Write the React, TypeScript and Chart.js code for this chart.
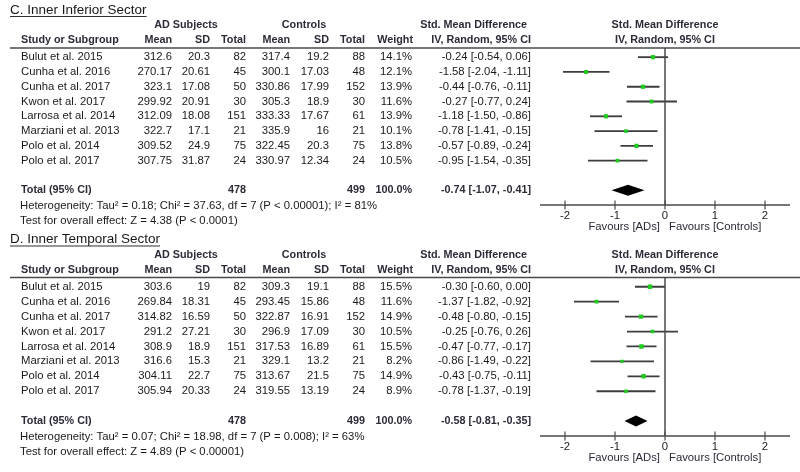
import React, { useEffect, useRef } from "react";
import { Chart, registerables } from "chart.js";
Chart.register(...registerables);

// ---------- shared ----------
const studies = [
  "Bulut et al. 2015",
  "Cunha et al. 2016",
  "Cunha et al. 2017",
  "Kwon et al. 2017",
  "Larrosa et al. 2014",
  "Marziani et al. 2013",
  "Polo et al. 2014",
  "Polo et al. 2017",
];
const axisTicks = [-2, -1, 0, 1, 2];
const favoursLeft = "Favours [ADs]";
const favoursRight = "Favours [Controls]";

// ---------- Panel C ----------
const cTitle = "C. Inner Inferior Sector";
const cAdMean = [312.6, 270.17, 323.1, 299.92, 312.09, 322.7, 309.52, 307.75];
const cAdSd = [20.3, 20.61, 17.08, 20.91, 18.08, 17.1, 24.9, 31.87];
const cAdN = [82, 45, 50, 30, 151, 21, 75, 24];
const cCtMean = [317.4, 300.1, 330.86, 305.3, 333.33, 335.9, 322.45, 330.97];
const cCtSd = [19.2, 17.03, 17.99, 18.9, 17.67, 16, 20.3, 12.34];
const cCtN = [88, 48, 152, 30, 61, 21, 75, 24];
const cWeight = [14.1, 12.1, 13.9, 11.6, 13.9, 10.1, 13.8, 10.5];
const cSmd = [-0.24, -1.58, -0.44, -0.27, -1.18, -0.78, -0.57, -0.95];
const cLo = [-0.54, -2.04, -0.76, -0.77, -1.5, -1.41, -0.89, -1.54];
const cHi = [0.06, -1.11, -0.11, 0.24, -0.86, -0.15, -0.24, -0.35];
const cTotalN = [478, 499];
const cTotalEst = [-0.74, -1.07, -0.41];
const cHetero = "Heterogeneity: Tau\u00B2 = 0.18; Chi\u00B2 = 37.63, df = 7 (P < 0.00001); I\u00B2 = 81%";
const cOverall = "Test for overall effect: Z = 4.38 (P < 0.0001)";

// ---------- Panel D ----------
const dTitle = "D. Inner Temporal Sector";
const dAdMean = [303.6, 269.84, 314.82, 291.2, 308.9, 316.6, 304.11, 305.94];
const dAdSd = [19, 18.31, 16.59, 27.21, 18.9, 15.3, 22.7, 20.33];
const dAdN = [82, 45, 50, 30, 151, 21, 75, 24];
const dCtMean = [309.3, 293.45, 322.87, 296.9, 317.53, 329.1, 313.67, 319.55];
const dCtSd = [19.1, 15.86, 16.91, 17.09, 16.89, 13.2, 21.5, 13.19];
const dCtN = [88, 48, 152, 30, 61, 21, 75, 24];
const dWeight = [15.5, 11.6, 14.9, 10.5, 15.5, 8.2, 14.9, 8.9];
const dSmd = [-0.3, -1.37, -0.48, -0.25, -0.47, -0.86, -0.43, -0.78];
const dLo = [-0.6, -1.82, -0.8, -0.76, -0.77, -1.49, -0.75, -1.37];
const dHi = [0.0, -0.92, -0.15, 0.26, -0.17, -0.22, -0.11, -0.19];
const dTotalN = [478, 499];
const dTotalEst = [-0.58, -0.81, -0.35];
const dHetero = "Heterogeneity: Tau\u00B2 = 0.07; Chi\u00B2 = 18.98, df = 7 (P = 0.008); I\u00B2 = 63%";
const dOverall = "Test for overall effect: Z = 4.89 (P < 0.00001)";

const panels = [
  {
    title: cTitle, adMean: cAdMean, adSd: cAdSd, adN: cAdN, ctMean: cCtMean, ctSd: cCtSd, ctN: cCtN,
    weight: cWeight, smd: cSmd, lo: cLo, hi: cHi, totalN: cTotalN, totalEst: cTotalEst,
    hetero: cHetero, overall: cOverall, height: 232, padTop: 48, padBottom: 27,
  },
  {
    title: dTitle, adMean: dAdMean, adSd: dAdSd, adN: dAdN, ctMean: dCtMean, ctSd: dCtSd, ctN: dCtN,
    weight: dWeight, smd: dSmd, lo: dLo, hi: dHi, totalN: dTotalN, totalEst: dTotalEst,
    hetero: dHetero, overall: dOverall, height: 240, padTop: 45.5, padBottom: 36,
  },
];

const FONT = '"Liberation Sans", Arial, sans-serif';
const REG = `11.3px ${FONT}`;
const BOLD = `bold 10.8px ${FONT}`;
const TXT = "#1a1a1a";
const HDR = "#2c2c38";
const LINE = "#4a4a4a";
const TOTAL_ROW = 9;
const DIAMOND_HALF = 0.37;

const f2 = (v: number) => v.toFixed(2);
const ciText = (e: number, l: number, h: number) => `${f2(e)} [${f2(l)}, ${f2(h)}]`;

const forestPlugin = {
  id: "forestDecor",
  afterDatasetsDraw(chart: any, _args: any, opts: any) {
    const p = opts.panel;
    if (!p) return;
    const ctx = chart.ctx as CanvasRenderingContext2D;
    const xs = chart.scales.x;
    const ys = chart.scales.y;
    const ca = chart.chartArea;
    const x0 = xs.getPixelForValue(0);

    ctx.save();
    // zero line
    ctx.strokeStyle = LINE;
    ctx.lineWidth = 1.5;
    ctx.beginPath();
    ctx.moveTo(x0, ca.top);
    ctx.lineTo(x0, ca.bottom);
    ctx.stroke();

    // header rule
    ctx.beginPath();
    ctx.moveTo(10, ca.top);
    ctx.lineTo(800, ca.top);
    ctx.stroke();

    // axis
    ctx.beginPath();
    ctx.moveTo(ca.left, ca.bottom);
    ctx.lineTo(ca.right, ca.bottom);
    ctx.stroke();
    ctx.lineWidth = 1.2;
    axisTicks.forEach((t) => {
      const x = xs.getPixelForValue(t);
      ctx.beginPath();
      ctx.moveTo(x, ca.bottom - 4.5);
      ctx.lineTo(x, ca.bottom + 4.5);
      ctx.stroke();
    });

    // diamond
    const [est, lo, hi] = p.totalEst;
    const yc = ys.getPixelForValue(TOTAL_ROW);
    const yt = ys.getPixelForValue(TOTAL_ROW - DIAMOND_HALF);
    const yb = ys.getPixelForValue(TOTAL_ROW + DIAMOND_HALF);
    ctx.fillStyle = "#000";
    ctx.beginPath();
    ctx.moveTo(xs.getPixelForValue(lo), yc);
    ctx.lineTo(xs.getPixelForValue(est), yt);
    ctx.lineTo(xs.getPixelForValue(hi), yc);
    ctx.lineTo(xs.getPixelForValue(est), yb);
    ctx.closePath();
    ctx.fill();

    // text helpers
    const txt = (s: string, x: number, y: number, align: CanvasTextAlign, font = REG, color = TXT) => {
      ctx.font = font;
      ctx.fillStyle = color;
      ctx.textAlign = align;
      ctx.textBaseline = "middle";
      ctx.fillText(s, x, y);
    };

    // title
    const ty = ca.top - 38;
    txt(p.title, 10, ty, "left", `13.5px ${FONT}`, "#181818");
    ctx.font = `13.5px ${FONT}`;
    const tw = ctx.measureText(p.title).width;
    ctx.strokeStyle = "#303030";
    ctx.lineWidth = 1.2;
    ctx.beginPath();
    ctx.moveTo(10, ty + 6.5);
    ctx.lineTo(10 + tw, ty + 6.5);
    ctx.stroke();

    // headers
    const h1 = ca.top - 22.5;
    const h2 = ca.top - 7.5;
    txt("AD Subjects", 186, h1, "center", BOLD, HDR);
    txt("Controls", 304, h1, "center", BOLD, HDR);
    txt("Std. Mean Difference", 527, h1, "right", BOLD, HDR);
    txt("Std. Mean Difference", x0, h1, "center", BOLD, HDR);
    txt("Study or Subgroup", 21, h2, "left", BOLD, HDR);
    txt("Mean", 172, h2, "right", BOLD, HDR);
    txt("SD", 210, h2, "right", BOLD, HDR);
    txt("Total", 246, h2, "right", BOLD, HDR);
    txt("Mean", 290, h2, "right", BOLD, HDR);
    txt("SD", 329, h2, "right", BOLD, HDR);
    txt("Total", 365, h2, "right", BOLD, HDR);
    txt("Weight", 413, h2, "right", BOLD, HDR);
    txt("IV, Random, 95% CI", 531, h2, "right", BOLD, HDR);
    txt("IV, Random, 95% CI", x0, h2, "center", BOLD, HDR);

    // rows
    studies.forEach((s, i) => {
      const y = ys.getPixelForValue(i);
      txt(s, 21, y, "left");
      txt(String(p.adMean[i]), 172, y, "right");
      txt(String(p.adSd[i]), 210, y, "right");
      txt(String(p.adN[i]), 246, y, "right");
      txt(String(p.ctMean[i]), 290, y, "right");
      txt(String(p.ctSd[i]), 329, y, "right");
      txt(String(p.ctN[i]), 365, y, "right");
      txt(p.weight[i].toFixed(1) + "%", 412, y, "right");
      txt(ciText(p.smd[i], p.lo[i], p.hi[i]), 531, y, "right");
    });

    // total row
    txt("Total (95% CI)", 21, yc, "left", BOLD, HDR);
    txt(String(p.totalN[0]), 246, yc, "right", BOLD, HDR);
    txt(String(p.totalN[1]), 365, yc, "right", BOLD, HDR);
    txt("100.0%", 412, yc, "right", BOLD, HDR);
    txt(ciText(est, lo, hi), 531, yc, "right", BOLD, HDR);

    // footer
    txt(p.hetero, 20, ca.bottom + 1, "left");
    txt(p.overall, 20, ca.bottom + 16, "left");

    // tick labels
    axisTicks.forEach((t) => {
      txt(String(t), xs.getPixelForValue(t), ca.bottom + 10.5, "center");
    });
    txt(favoursLeft, x0 - 5, ca.bottom + 22, "right", REG, "#2a2a38");
    txt(favoursRight, x0 + 4, ca.bottom + 22, "left", REG, "#2a2a38");
    ctx.restore();
  },
};

function ForestPanel({ panel }: { panel: any }) {
  const ref = useRef<HTMLCanvasElement | null>(null);
  useEffect(() => {
    if (!ref.current) return;
    const ciSets = studies.map((_, i) => ({
      type: "line" as const,
      data: [
        { x: panel.lo[i], y: i },
        { x: panel.hi[i], y: i },
      ],
      borderColor: "#3c3c3c",
      borderWidth: 1.8,
      pointRadius: 0,
      order: 2,
    }));
    const pointSet = {
      type: "scatter" as const,
      data: studies.map((_, i) => ({ x: panel.smd[i], y: i })),
      pointStyle: "rect",
      pointRadius: panel.weight.map((w: number) => Math.sqrt(w) * 0.8),
      backgroundColor: "#1ecb1e",
      borderWidth: 0,
      order: 0,
    };
    const chart = new Chart(ref.current, {
      type: "scatter",
      data: { datasets: [pointSet as any, ...ciSets] },
      options: {
        animation: false,
        responsive: false,
        events: [],
        layout: { padding: { left: 540, right: 10, top: panel.padTop, bottom: panel.padBottom } },
        scales: {
          x: { type: "linear", min: -2.5, max: 2.5, display: false },
          y: { type: "linear", min: -0.62, max: 10, reverse: true, display: false },
        },
        plugins: {
          legend: { display: false },
          tooltip: { enabled: false },
          forestDecor: { panel },
        } as any,
      },
      plugins: [forestPlugin],
    });
    return () => chart.destroy();
  }, [panel]);
  return <canvas ref={ref} width={800} height={panel.height} style={{ display: "block", width: 800, height: panel.height }} />;
}

export default function App() {
  return (
    <div style={{ position: "absolute", left: 0, top: 0, width: 800, height: 472, background: "#fff", overflow: "hidden" }}>
      {panels.map((p, i) => (
        <ForestPanel key={i} panel={p} />
      ))}
    </div>
  );
}
